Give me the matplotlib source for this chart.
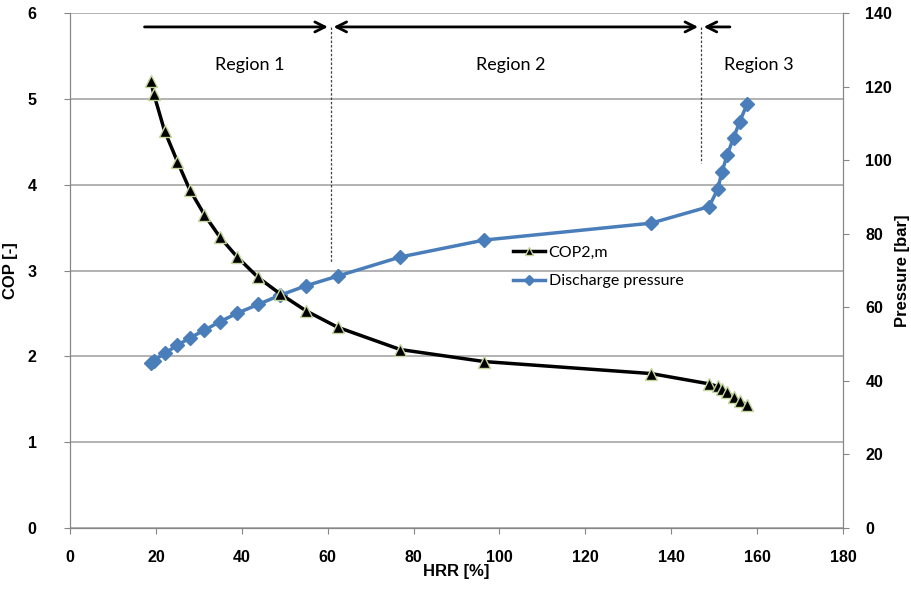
import matplotlib.pyplot as plt

# ticks and axis titles are bold; region texts and legend use a regular face
plt.rcParams['font.family'] = ['Liberation Sans', 'DejaVu Sans']
plt.rcParams['font.weight'] = 'bold'
plt.rcParams['font.size'] = 12
plain_family = ['Lato', 'DejaVu Sans']

# data
hrr = [18.8, 19.5, 22.0, 25.0, 27.9, 31.3, 34.9, 38.9, 43.8, 48.9, 55.0, 62.3,
       76.9, 96.4, 135.3, 148.8, 150.8, 151.8, 153.0, 154.5, 155.9, 157.7]
cop = [5.21, 5.06, 4.63, 4.27, 3.94, 3.65, 3.39, 3.16, 2.92, 2.73, 2.53, 2.34,
       2.08, 1.94, 1.80, 1.68, 1.65, 1.62, 1.58, 1.53, 1.48, 1.43]
pressure = [44.9, 45.5, 47.5, 49.7, 51.7, 53.8, 56.1, 58.4, 60.8, 63.3, 65.9, 68.5,
            73.7, 78.3, 82.9, 87.4, 92.1, 96.8, 101.4, 106.1, 110.4, 115.4]

x_ticks = list(range(0, 181, 20))
cop_ticks = list(range(0, 7))
p_ticks = list(range(0, 141, 20))

region_names = ['Region 1', 'Region 2', 'Region 3']
region_text_x = [41.9, 102.7, 160.3]
bounds = [16.7, 60.7, 146.9, 154.3]   # arrow extents on HRR axis

grey = '#a6a6a6'
blue = '#4a7ebb'

fig = plt.figure(figsize=(9.12, 6), dpi=100)
ax = fig.add_axes([0.0768, 0.12, 0.8476, 0.858])
ax2 = ax.twinx()

ax.set_xlim(0, 180)
ax.set_ylim(0, 6)
ax2.set_ylim(0, 140)
ax.set_xticks(x_ticks)
ax.set_yticks(cop_ticks)
ax2.set_yticks(p_ticks)

ax.yaxis.grid(True, color=grey, lw=1.2)
ax.set_axisbelow(True)
for a in (ax, ax2):
    a.spines['top'].set_visible(False)
    for s in ('left', 'right', 'bottom'):
        a.spines[s].set_color('#868686')
    a.tick_params(colors='#868686', length=4, direction='out', labelcolor='black',
                  labelsize=11.5)
ax.tick_params(axis='y', pad=20)
ax2.tick_params(axis='y', pad=12)
ax.tick_params(axis='x', pad=12)

ax.set_xlabel('HRR [%]', labelpad=-1, fontsize=12, fontweight='bold')
ax.set_ylabel('COP [-]', labelpad=7, fontsize=12, fontweight='bold')
ax2.set_ylabel('Pressure [bar]', labelpad=2, fontsize=12, fontweight='bold')

l2, = ax2.plot(hrr, pressure, color=blue, lw=2.5, marker='D', ms=7,
               mfc=blue, mec=blue, label='Discharge pressure')
l1, = ax2.plot(hrr, [c * 140 / 6 for c in cop], color='black', lw=2.5, marker='^',
               ms=8.5, mfc='black', mec='#c3d69b', mew=1, label='COP2,m')

ax2.legend([l1, l2], ['COP2,m', 'Discharge pressure'], loc='center left',
           bbox_to_anchor=(0.555, 0.507), frameon=False,
           prop=dict(family=plain_family, weight='normal', size=11.5),
           handlelength=2.0, handletextpad=0.2, labelspacing=0.9, markerscale=0.75)

# region arrows and separators
ya = 5.84
ax.annotate('', xy=(bounds[1], ya), xytext=(bounds[0], ya),
            arrowprops=dict(arrowstyle='->', color='black', lw=2, mutation_scale=18))
ax.annotate('', xy=(bounds[2], ya), xytext=(bounds[1], ya),
            arrowprops=dict(arrowstyle='<->', color='black', lw=2, mutation_scale=18))
ax.annotate('', xy=(bounds[2], ya), xytext=(bounds[3], ya),
            arrowprops=dict(arrowstyle='->', color='black', lw=2, mutation_scale=18))
ax.plot([bounds[1], bounds[1]], [ya, 3.1], color='#404040', lw=0.9, ls=(0, (2, 1.5)))
ax.plot([bounds[2], bounds[2]], [ya, 4.25], color='#404040', lw=0.9, ls=(0, (2, 1.5)))
for name, xt in zip(region_names, region_text_x):
    ax.text(xt, 5.4, name, ha='center', va='center', fontsize=13,
            family=plain_family, fontweight='normal')

fig.savefig('out.png', dpi=100)
